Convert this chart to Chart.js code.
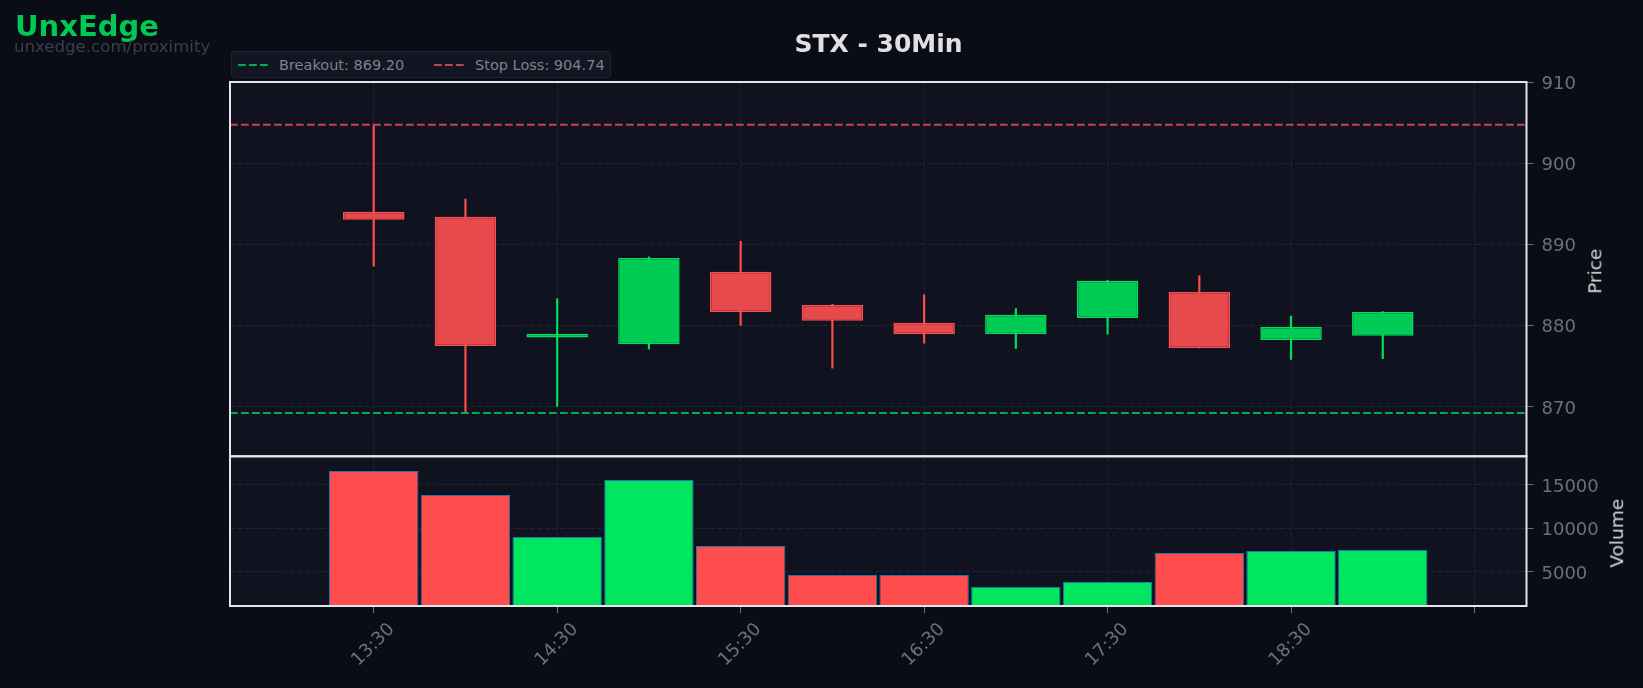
<!DOCTYPE html>
<html>
<head>
<meta charset="utf-8">
<script src="https://cdn.jsdelivr.net/npm/chart.js@4.4.1/dist/chart.umd.min.js"></script>
<style>
  body { margin: 0; background: #0a0d16; }
  #wrap { position: relative; width: 1643px; height: 688px; font-family: 'DejaVu Sans', sans-serif; }
  #c { position: absolute; left: 0; top: 0; }
  .abs { position: absolute; white-space: nowrap; }
  #brand { left: 15px; top: 11.5px; font-size: 29px; line-height: 29px; font-weight: bold; color: #00c853; }
  #site { left: 14px; top: 38.5px; font-size: 16.6px; line-height: 16.6px; color: #3a3f4d; }
  #title { left: 230px; width: 1297px; top: 30.5px; font-size: 25px; line-height: 25px; font-weight: bold; color: #e0e0e0; text-align: center; }
  #legend { left: 231px; top: 51px; width: 378px; height: 25px; background: #121622; border: 1px solid #1f2433; border-radius: 3px; }
  #legend .txt { position: absolute; top: 6px; font-size: 14.5px; line-height: 14.5px; color: #7d828e; white-space: nowrap; }
  #legend svg { position: absolute; top: 11px; }
  .ylab { font-size: 18.5px; line-height: 18.5px; color: #d8d8d8; transform: rotate(-90deg); transform-origin: center; }
</style>
</head>
<body>
<div id="wrap">
  <canvas id="c" width="1643" height="688"></canvas>
  <div id="brand" class="abs">UnxEdge</div>
  <div id="site" class="abs">unxedge.com/proximity</div>
  <div id="title" class="abs">STX - 30Min</div>
  <div id="legend" class="abs"></div>
  <div id="priceLab" class="abs ylab">Price</div>
  <div id="volLab" class="abs ylab">Volume</div>
</div>
<script>
// candle times (30 min bars)
var times   = ['13:30','14:00','14:30','15:00','15:30','16:00','16:30','17:00','17:30','18:00','18:30','19:00'];
var opens   = [894.00, 893.40, 878.50, 877.65, 886.60, 882.50, 880.30, 878.90, 880.90, 884.10, 878.20, 878.70];
var highs   = [904.75, 895.55, 883.30, 888.45, 890.35, 882.60, 883.75, 882.05, 885.55, 886.10, 881.15, 881.70];
var lows    = [887.30, 869.15, 870.00, 877.05, 880.00, 874.70, 877.80, 877.15, 878.90, 877.20, 875.80, 875.90];
var closes  = [893.00, 877.45, 878.95, 888.30, 881.65, 880.55, 878.90, 881.30, 885.50, 877.20, 879.80, 881.65];
var volumes = [16530, 13780, 8970, 15500, 7940, 4620, 4620, 3280, 3820, 7140, 7370, 7480];

// levels
var breakout = 869.20;
var stopLoss = 904.74;

// axes
var xRange      = ['12:43', '19:47'];
var xTickTimes  = ['13:30','14:30','15:30','16:30','17:30','18:30','19:30'];
var xTickLabels = ['13:30','14:30','15:30','16:30','17:30','18:30',''];
var priceRange  = [863.85, 910.0];
var priceTicks  = [870, 880, 890, 900, 910];
var volRange    = [1080, 18220];
var volTicks    = [5000, 10000, 15000];

var colours = {
    upBody: '#00cc55', upEdge: '#00e060', upWick: '#00e060', upVol: '#00e660',
    downBody: '#e64a4d', downEdge: '#ff4d4f', downWick: '#ff4d4d', downVol: '#ff4d4d',
    volEdge: '#1f77b4', breakout: '#00b050', stop: '#c94444',
    grid: '#20242f', tick: '#6b7080', panel: '#10131f', frame: '#e6e6e6'
};

function toMin(s) {
    var p = s.split(':');
    return Number(p[0]) * 60 + Number(p[1]);
}

var xs = times.map(toMin);
var up = closes.map(function(c, i) { return c >= opens[i]; });
var xMin = toMin(xRange[0]), xMax = toMin(xRange[1]);

// level lines
var levels = [
    { label: 'Breakout: ' + breakout.toFixed(2), value: breakout, colour: colours.breakout },
    { label: 'Stop Loss: ' + stopLoss.toFixed(2), value: stopLoss, colour: colours.stop }
];
var dash = [7.7, 3.3];

var datasets = levels.map(function(l) {
    return {
        type: 'line', label: l.label,
        data: [{ x: xMin, y: l.value }, { x: xMax, y: l.value }],
        borderColor: l.colour, borderWidth: 2, borderDash: dash,
        pointRadius: 0, yAxisID: 'y', order: 0
    };
});

// candle bodies
datasets.push({
    type: 'bar', label: 'body',
    data: xs.map(function(t, i) { return { x: t, y: [opens[i], closes[i]] }; }),
    backgroundColor: up.map(function(u) { return u ? colours.upBody : colours.downBody; }),
    borderColor: up.map(function(u) { return u ? colours.upEdge : colours.downEdge; }),
    borderWidth: 1.5, borderSkipped: false, grouped: false,
    barPercentage: 0.67, categoryPercentage: 1, yAxisID: 'y', order: 1
});

// wicks
datasets.push({
    type: 'bar', label: 'wick',
    data: xs.map(function(t, i) { return { x: t, y: [lows[i], highs[i]] }; }),
    backgroundColor: up.map(function(u) { return u ? colours.upWick : colours.downWick; }),
    borderWidth: 0, grouped: false, barThickness: 1.5, yAxisID: 'y', order: 2
});

// volume
datasets.push({
    type: 'bar', label: 'volume',
    data: xs.map(function(t, i) { return { x: t, y: volumes[i] }; }),
    backgroundColor: up.map(function(u) { return u ? colours.upVol : colours.downVol; }),
    borderColor: colours.volEdge, borderWidth: 1, borderSkipped: false, grouped: false,
    barPercentage: 0.975, categoryPercentage: 1, yAxisID: 'yv', order: 3
});

// panel backgrounds and frames
var panels = {
    id: 'panels',
    beforeDraw: function(chart) {
        var ctx = chart.ctx, a = chart.chartArea;
        ctx.save();
        ctx.fillStyle = colours.panel;
        [chart.scales.y, chart.scales.yv].forEach(function(s) {
            ctx.fillRect(a.left, s.top, a.right - a.left, s.bottom - s.top);
        });
        ctx.restore();
    },
    afterDraw: function(chart) {
        var ctx = chart.ctx, a = chart.chartArea;
        ctx.save();
        ctx.strokeStyle = colours.frame;
        ctx.lineWidth = 2;
        [chart.scales.y, chart.scales.yv].forEach(function(s) {
            ctx.strokeRect(a.left, s.top, a.right - a.left, s.bottom - s.top);
        });
        ctx.restore();
    }
};

Chart.defaults.font.family = "'DejaVu Sans', sans-serif";

function yScale(range, ticks, weight) {
    return {
        type: 'linear', position: 'right', stack: 'panels', stackWeight: weight,
        min: range[0], max: range[1],
        afterBuildTicks: function(s) { s.ticks = ticks.map(function(v) { return { value: v }; }); },
        afterFit: function(s) { s.width = 116.5; },
        ticks: { color: colours.tick, font: { size: 18 }, padding: 8, labelOffset: 2.5,
                 callback: function(v) { return String(v); } },
        grid: { color: colours.grid, tickColor: colours.tick, tickLength: 7, tickBorderDash: [] },
        border: { display: false, dash: [5, 2.5] }
    };
}

var chart = new Chart(document.getElementById('c'), {
    type: 'bar',
    data: { datasets: datasets },
    options: {
        responsive: false,
        animation: false,
        layout: { padding: { left: 230, top: 82, right: 0, bottom: 0 } },
        plugins: { legend: { display: false }, tooltip: { enabled: false } },
        scales: {
            x: {
                type: 'linear', min: xMin, max: xMax, offset: false,
                afterBuildTicks: function(s) { s.ticks = xTickTimes.map(function(t) { return { value: toMin(t) }; }); },
                afterFit: function(s) { s.height = 82; },
                ticks: {
                    color: colours.tick, font: { size: 18 }, autoSkip: false,
                    minRotation: 45, maxRotation: 45, labelOffset: 18, padding: 6,
                    callback: function(v, i) { return xTickLabels[i]; }
                },
                grid: { offset: false, color: colours.grid, tickColor: colours.tick, tickLength: 7, tickBorderDash: [] },
                border: { display: false, dash: [5, 2.5] }
            },
            y: yScale(priceRange, priceTicks, 2.5),
            yv: yScale(volRange, volTicks, 1)
        }
    },
    plugins: [panels]
});

// html legend from the level lines
var legend = document.getElementById('legend');
var slots = [{ line: 6, text: 47 }, { line: 202, text: 243 }];
levels.forEach(function(l, i) {
    var svg = '<svg width="30" height="4" style="left:' + slots[i].line + 'px"><line x1="0" y1="2" x2="30" y2="2" stroke="' +
        l.colour + '" stroke-width="2" stroke-dasharray="' + dash.join(',') + '"/></svg>';
    legend.insertAdjacentHTML('beforeend', svg + '<div class="txt" style="left:' + slots[i].text + 'px">' + l.label + '</div>');
});

// axis titles, placed beside their scales
function placeLabel(id, scale, offset) {
    var el = document.getElementById(id);
    var w = el.offsetWidth, h = el.offsetHeight;
    var cx = scale.left + offset, cy = (scale.top + scale.bottom) / 2 + 2;
    el.style.left = (cx - w / 2) + 'px';
    el.style.top = (cy - h / 2) + 'px';
}
placeLabel('priceLab', chart.scales.y, 69);
placeLabel('volLab', chart.scales.yv, 90.5);
</script>
</body>
</html>
